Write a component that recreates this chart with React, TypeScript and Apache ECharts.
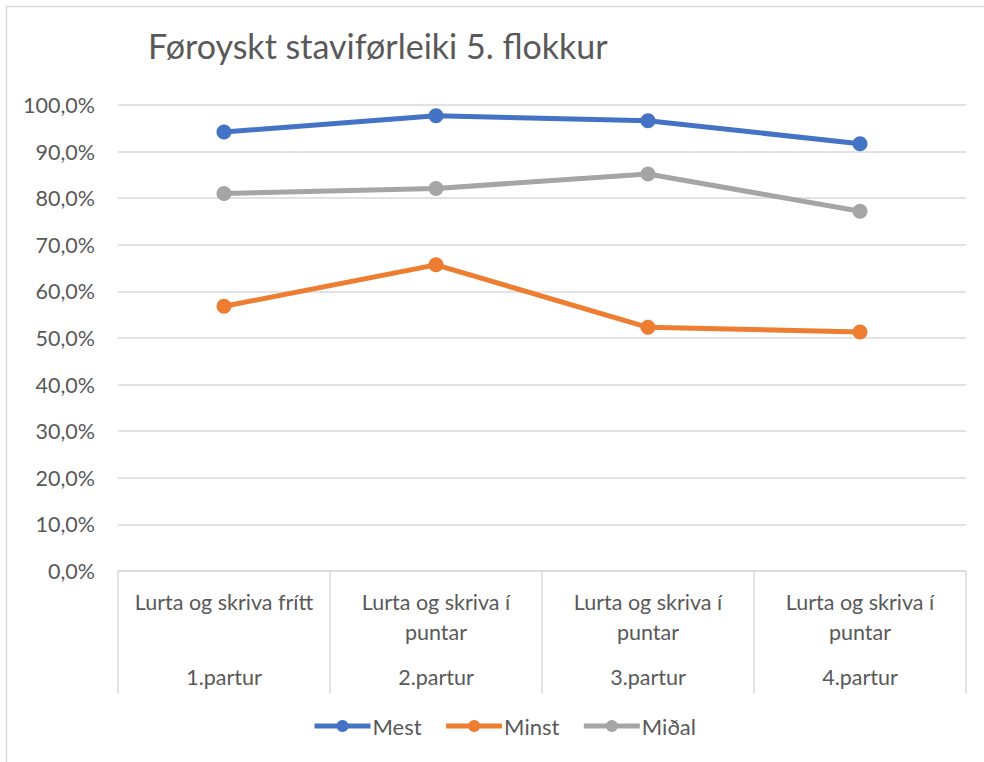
import React, { useEffect, useRef } from "react";
import * as echarts from "echarts";

const title = "Føroyskt staviførleiki 5. flokkur";
const categoryTop = ["Lurta og skriva frítt", "Lurta og skriva í\npuntar", "Lurta og skriva í\npuntar", "Lurta og skriva í\npuntar"];
const categoryGroup = ["1.partur", "2.partur", "3.partur", "4.partur"];
const seriesNames = ["Mest", "Minst", "Miðal"];
const mest = [0.942, 0.977, 0.966, 0.917];
const minst = [0.568, 0.657, 0.523, 0.513];
const midal = [0.81, 0.821, 0.852, 0.772];
const colors = ["#4472C4", "#ED7D31", "#A5A5A5"];

const FONT = "Lato";
const TEXT = "#595959";
const GRID = "#d9d9d9";

export default function App() {
  const ref = useRef<HTMLDivElement>(null);
  useEffect(() => {
    if (!ref.current) return;
    const chart = echarts.init(ref.current, null, { renderer: "svg" });
    const cats = categoryTop.map((t, i) => t + "|" + categoryGroup[i]);
    const dataSets = [mest, minst, midal];
    chart.setOption({
      animation: false,
      backgroundColor: "#ffffff",
      textStyle: { fontFamily: FONT, color: TEXT },
      title: {
        text: title,
        left: 143,
        top: 23,
        textStyle: { fontFamily: FONT, fontSize: 34, fontWeight: "normal", color: TEXT },
      },
      graphic: [
        {
          type: "rect",
          shape: { x: 6.5, y: 6.5, width: 1100, height: 1100 },
          style: { fill: "none", stroke: GRID, lineWidth: 1.5 },
          silent: true,
        },
      ],
      grid: { left: 118, right: 18, top: 105, bottom: 191, containLabel: false },
      legend: {
        top: 710,
        left: 307,
        itemWidth: 56,
        itemHeight: 15,
        itemGap: 22,
        lineStyle: { width: 5 },
        textStyle: { fontFamily: FONT, fontSize: 22, color: TEXT, padding: [0, 0, 0, -3] },
        data: seriesNames,
      },
      xAxis: {
        type: "category",
        data: cats,
        boundaryGap: true,
        axisLine: { show: true, lineStyle: { color: GRID, width: 1.5 } },
        axisTick: { show: true, interval: 0, length: 122, lineStyle: { color: GRID, width: 1.5 } },
        axisLabel: {
          interval: 0,
          margin: 16,
          formatter: (v: string) => {
            const [top, grp] = v.split("|");
            const lines = top.split("\n");
            const a = lines.map((l) => "{a|" + l + "}");
            if (a.length < 2) a.push("{a| }");
            return a.join("\n") + "\n{b|" + grp + "}";
          },
          rich: {
            a: { fontFamily: FONT, fontSize: 21.5, color: TEXT, lineHeight: 30, align: "center" },
            b: { fontFamily: FONT, fontSize: 21.5, color: TEXT, lineHeight: 60, align: "center" },
          },
        },
      },
      yAxis: {
        type: "value",
        min: 0,
        max: 1,
        interval: 0.1,
        axisLine: { show: false },
        axisTick: { show: false },
        splitLine: { lineStyle: { color: GRID, width: 1.5 } },
        axisLabel: {
          margin: 23,
          fontFamily: FONT,
          fontSize: 21.5,
          color: TEXT,
          formatter: (v: number) => (v * 100).toFixed(1).replace(".", ",") + "%",
        },
      },
      series: seriesNames.map((name, i) => ({
        name,
        type: "line",
        data: dataSets[i],
        symbol: "circle",
        symbolSize: 15,
        lineStyle: { color: colors[i], width: 5 },
        itemStyle: { color: colors[i] },
        z: 3 - i + 2,
      })),
    });
    return () => chart.dispose();
  }, []);
  return <div ref={ref} style={{ position: "fixed", left: 0, top: 0, width: 984, height: 762 }} />;
}
